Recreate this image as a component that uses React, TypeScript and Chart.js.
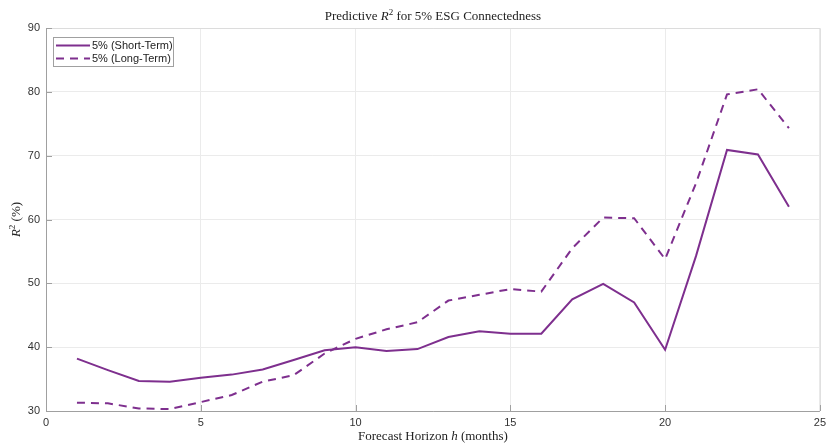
import React, { useEffect, useRef } from "react";
import { Chart, registerables } from "chart.js";

Chart.register(...registerables);

const horizons = [1, 2, 3, 4, 5, 6, 7, 8, 9, 10, 11, 12, 13, 14, 15, 16, 17, 18, 19, 20, 21, 22, 23, 24];
const shortTerm = [38.2, 36.4, 34.7, 34.6, 35.2, 35.7, 36.5, 38.0, 39.5, 40.0, 39.4, 39.7, 41.6, 42.5, 42.1, 42.1, 47.5, 49.9, 47.0, 39.6, 54.3, 70.9, 70.2, 62.0];
const longTerm = [31.3, 31.2, 30.4, 30.3, 31.4, 32.5, 34.6, 35.6, 39.0, 41.3, 42.8, 43.9, 47.3, 48.2, 49.1, 48.7, 55.5, 60.3, 60.2, 53.8, 65.7, 79.6, 80.4, 74.3];
const seriesLabels = ["5% (Short-Term)", "5% (Long-Term)"];
const xTicks = [0, 5, 10, 15, 20, 25];
const yTicks = [30, 40, 50, 60, 70, 80, 90];

const PURPLE = "#7E2F8E";
const SERIF = "'Liberation Serif', serif";

function drawRich(ctx: any, parts: { t: string; style?: string; size: number; dy?: number }[], cx: number, cy: number) {
  let total = 0;
  parts.forEach((p) => {
    ctx.font = `${p.style || ""} ${p.size}px ${SERIF}`;
    total += ctx.measureText(p.t).width;
  });
  let x = cx - total / 2;
  ctx.textAlign = "left";
  ctx.textBaseline = "middle";
  parts.forEach((p) => {
    ctx.font = `${p.style || ""} ${p.size}px ${SERIF}`;
    ctx.fillText(p.t, x, cy + (p.dy || 0));
    x += ctx.measureText(p.t).width;
  });
}

const boxPlugin = {
  id: "matlabBox",
  afterDraw(chart: any) {
    const { ctx, chartArea: a, scales } = chart;
    ctx.save();
    ctx.fillStyle = "#222";
    // title
    drawRich(
      ctx,
      [
        { t: "Predictive ", size: 13 },
        { t: "R", style: "italic", size: 13 },
        { t: "2", size: 9, dy: -4 },
        { t: " for 5% ESG Connectedness", size: 13 },
      ],
      (a.left + a.right) / 2,
      17
    );
    // x title
    drawRich(
      ctx,
      [
        { t: "Forecast Horizon ", size: 13 },
        { t: "h", style: "italic", size: 13 },
        { t: " (months)", size: 13 },
      ],
      (a.left + a.right) / 2,
      437
    );
    // y title
    ctx.save();
    ctx.translate(17, (a.top + a.bottom) / 2);
    ctx.rotate(-Math.PI / 2);
    drawRich(
      ctx,
      [
        { t: "R", style: "italic", size: 13 },
        { t: "2", size: 9, dy: -4 },
        { t: " (%)", size: 13 },
      ],
      0,
      0
    );
    ctx.restore();

    // box
    ctx.lineWidth = 1;
    ctx.strokeStyle = "#dcdcdc";
    ctx.beginPath();
    ctx.moveTo(a.left, a.top + 0.5);
    ctx.lineTo(a.right + 0.5, a.top + 0.5);
    ctx.lineTo(a.right + 0.5, a.bottom);
    ctx.stroke();
    ctx.strokeStyle = "#a0a0a0";
    ctx.beginPath();
    ctx.moveTo(a.left + 0.5, a.top);
    ctx.lineTo(a.left + 0.5, a.bottom + 0.5);
    ctx.lineTo(a.right, a.bottom + 0.5);
    ctx.stroke();
    // inward ticks
    const xs = scales.x;
    const ys = scales.y;
    ctx.beginPath();
    xTicks.forEach((t) => {
      const px = Math.round(xs.getPixelForValue(t)) + 0.5;
      ctx.moveTo(px, a.bottom);
      ctx.lineTo(px, a.bottom - 6);
    });
    yTicks.forEach((t) => {
      const py = Math.round(ys.getPixelForValue(t)) + 0.5;
      ctx.moveTo(a.left, py);
      ctx.lineTo(a.left + 6, py);
    });
    ctx.stroke();

    // legend
    const lx = a.left + 7;
    const ly = a.top + 9;
    const lw = 120;
    const lh = 29;
    ctx.fillStyle = "#fff";
    ctx.fillRect(lx, ly, lw, lh);
    ctx.strokeStyle = "#a0a0a0";
    ctx.lineWidth = 1;
    ctx.strokeRect(lx + 0.5, ly + 0.5, lw, lh);
    ctx.lineWidth = 2;
    ctx.strokeStyle = PURPLE;
    ctx.setLineDash([]);
    ctx.beginPath();
    ctx.moveTo(lx + 3, ly + 8.5);
    ctx.lineTo(lx + 37, ly + 8.5);
    ctx.stroke();
    ctx.setLineDash([8, 6]);
    ctx.beginPath();
    ctx.moveTo(lx + 3, ly + 21.5);
    ctx.lineTo(lx + 37, ly + 21.5);
    ctx.stroke();
    ctx.setLineDash([]);
    ctx.fillStyle = "#222";
    ctx.font = "11px 'Liberation Sans', Arial, sans-serif";
    ctx.textAlign = "left";
    ctx.textBaseline = "middle";
    ctx.fillText(seriesLabels[0], lx + 39, ly + 8.5);
    ctx.fillText(seriesLabels[1], lx + 39, ly + 21.5);
    ctx.restore();
  },
};

export default function App() {
  const ref = useRef<HTMLCanvasElement | null>(null);
  useEffect(() => {
    document.body.style.margin = "0";
    if (!ref.current) return;
    const chart = new Chart(ref.current, {
      type: "line",
      data: {
        datasets: [
          {
            label: seriesLabels[0],
            data: horizons.map((h, i) => ({ x: h, y: shortTerm[i] })),
            borderColor: PURPLE,
            backgroundColor: PURPLE,
            borderWidth: 2,
            pointRadius: 0,
            tension: 0,
          },
          {
            label: seriesLabels[1],
            data: horizons.map((h, i) => ({ x: h, y: longTerm[i] })),
            borderColor: PURPLE,
            backgroundColor: PURPLE,
            borderWidth: 2,
            borderDash: [8, 6],
            pointRadius: 0,
            tension: 0,
          },
        ],
      },
      options: {
        animation: false,
        responsive: false,
        layout: { padding: { top: 28, right: 8, left: 0, bottom: 0 } },
        plugins: {
          legend: { display: false },
          title: { display: false },
          tooltip: { enabled: false },
        },
        scales: {
          x: {
            type: "linear",
            min: 0,
            max: 25,
            afterBuildTicks: (s: any) => {
              s.ticks = xTicks.map((v) => ({ value: v }));
            },
            afterFit: (s: any) => {
              s.height = 35;
            },
            border: { display: false },
            grid: { color: "#ebebeb", drawTicks: false, lineWidth: 1 },
            ticks: {
              padding: 5,
              color: "#333",
              font: { family: "'Liberation Sans', Arial, sans-serif", size: 11 },
              maxRotation: 0,
            },
          },
          y: {
            type: "linear",
            min: 30,
            max: 90,
            afterBuildTicks: (s: any) => {
              s.ticks = yTicks.map((v) => ({ value: v }));
            },
            afterFit: (s: any) => {
              s.width = 46;
            },
            border: { display: false },
            grid: { color: "#ebebeb", drawTicks: false, lineWidth: 1 },
            ticks: {
              padding: 6,
              color: "#333",
              font: { family: "'Liberation Sans', Arial, sans-serif", size: 11 },
            },
          },
        },
      },
      plugins: [boxPlugin],
    } as any);
    return () => chart.destroy();
  }, []);
  return (
    <div style={{ position: "absolute", left: 0, top: 0, width: 831, height: 446 }}>
      <canvas ref={ref} width={831} height={446} style={{ width: 831, height: 446 }} />
    </div>
  );
}
